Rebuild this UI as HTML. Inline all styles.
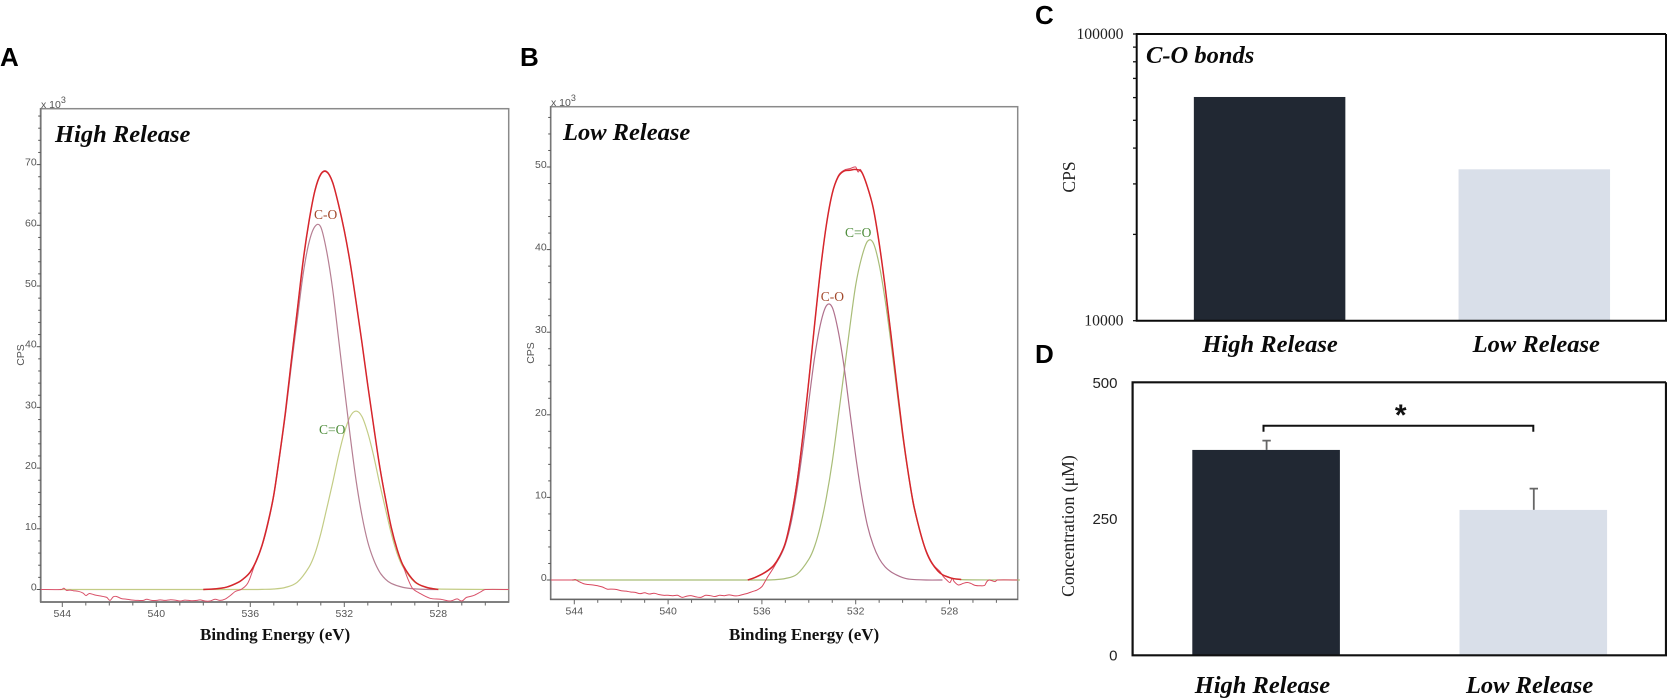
<!DOCTYPE html>
<html lang="en">
<head>
<meta charset="utf-8">
<title>XPS C-O bond spectra and concentration bars</title>
<style>
  html, body { margin: 0; padding: 0; background: #fff; }
  svg { display: block; }
  .serif { font-family: "Liberation Serif", serif; }
  .sans { font-family: "Liberation Sans", sans-serif; }
  .ttl { font-family: "Liberation Serif", serif; font-weight: bold; font-style: italic; font-size: 24.5px; fill: #0a0a0a; }
  .plabel { font-family: "Liberation Sans", sans-serif; font-weight: bold; font-size: 26px; fill: #000; }
  .spec-tick { font-family: "Liberation Sans", sans-serif; font-size: 10.5px; fill: #555; }
  .xe { font-family: "Liberation Serif", serif; font-weight: bold; font-size: 17px; fill: #111; }
</style>
</head>
<body>
<svg id="figure" xmlns="http://www.w3.org/2000/svg" width="1667" height="698" viewBox="0 0 1667 698">
  <rect x="0" y="0" width="1667" height="698" fill="#fff"/>

  <text class="plabel" x="0" y="66">A</text>
  <text class="plabel" x="520" y="66">B</text>
  <text class="plabel" x="1035" y="24">C</text>
  <text class="plabel" x="1035" y="363">D</text>

  <g id="panelA">
    <rect x="40.7" y="108.7" width="468" height="493.3" fill="none" stroke="#8a8a8a" stroke-width="1.5"/>
    <line x1="40.7" y1="108" x2="40.7" y2="602" stroke="#777" stroke-width="1.8"/>
    <line x1="40" y1="602" x2="509" y2="602" stroke="#777" stroke-width="1.8"/>
    <text class="ttl" x="55" y="142">High Release</text>
    <text class="spec-tick" x="41" y="108">x 10<tspan dy="-5" font-size="9">3</tspan></text>
    <text class="spec-tick" transform="translate(24,355) rotate(-90)" text-anchor="middle" font-size="10">CPS</text>
    <text class="xe" x="200" y="640">Binding Energy (eV)</text>
  </g>

  <g id="panelB">
    <rect x="550.7" y="106.7" width="467" height="492.8" fill="none" stroke="#8a8a8a" stroke-width="1.5"/>
    <line x1="550.7" y1="106" x2="550.7" y2="600" stroke="#777" stroke-width="1.6"/>
    <line x1="550" y1="599.3" x2="1018" y2="599.3" stroke="#666" stroke-width="1.4"/>
    <text class="ttl" x="563" y="140">Low Release</text>
    <text class="spec-tick" x="551" y="106">x 10<tspan dy="-5" font-size="9">3</tspan></text>
    <text class="spec-tick" transform="translate(534,353) rotate(-90)" text-anchor="middle" font-size="10">CPS</text>
    <text class="xe" x="729" y="640" font-size="17.5">Binding Energy (eV)</text>
  </g>

  <g id="panelC">
    <text class="serif" transform="translate(1075,177) rotate(-90)" text-anchor="middle" font-size="17.5" fill="#222">CPS</text>
    <text class="ttl" x="1146" y="63">C-O bonds</text>
  </g>

  <g id="panelD">
    <text class="serif" transform="translate(1074,526) rotate(-90)" text-anchor="middle" font-size="17.7" fill="#222">Concentration (μM)</text>
  </g>
</svg>

<script>
// ---------- Panel A: High Release spectrum (binding energy eV / CPS x 10^3) ----------
const aCoEnergy = [538,537.5,537,536.5,536.25,536,535.75,535.5,535.25,535,534.75,534.5,534.25,534,533.75,533.5,533.25,533,532.75,532.5,532.25,532,531.75,531.5,531.25,531,530.75,530.5,530.25,530,529.5,529,528.5,528];
const aCoCps    = [0,0.1,0.4,1.2,1.9,2.9,4.6,7.2,10.8,15.5,22,29,37,44.5,52,57.2,59.8,59.7,55.7,49.6,41.5,33.3,25.3,18,12.2,7.8,4.9,2.9,1.7,1,0.35,0.1,0.02,0];
const aDbEnergy = [544.1,536,535.5,535,534.5,534,533.5,533.25,533,532.75,532.5,532.25,532,531.75,531.5,531.25,531,530.75,530.5,530.25,530,529.75,529.5,529,528.5,528,525];
const aDbCps    = [0,0,0.02,0.08,0.35,1.2,3.7,5.9,9.2,13.3,17.5,22,25.8,28.5,29.4,28.5,25.8,22,17.5,13.3,9.2,5.9,3.7,1.2,0.35,0.08,0];
const aFitEnergy = [538,537.5,537,536.5,536.25,536,535.75,535.5,535.25,535,534.75,534.5,534.25,534,533.75,533.5,533.25,533,532.75,532.5,532.25,532,531.75,531.5,531.25,531,530.75,530.5,530.25,530,529.75,529.5,529,528.5,528];
const aFitCps    = [0,0.1,0.4,1.2,1.9,2.9,4.7,7.3,11,15.6,22.2,29.4,37.8,46,54.2,60.7,65.7,68.4,68.8,67.1,63.5,59.1,53.8,47.4,40.7,33.6,26.9,20.4,15,10.2,6.6,4,1.3,0.35,0];
const aRawEnergy = [544.92,544.03,543.93,543.82,543.67,543.53,543.32,543.11,542.99,542.85,542.61,542.4,542.11,541.97,541.83,541.69,541.48,541.26,540.98,540.77,540.55,540.41,540.2,539.99,539.84,539.63,539.42,539.21,538.99,538.78,538.5,538.28,538.14,537.93,537.72,537.5,537.29,537.08,536.87,536.65,536.51,536.37,536.16,536.04,535.8,535.5,535.25,535,534.75,534.5,534.25,534,533.75,533.5,533.25,533,532.75,532.5,532.25,532,531.75,531.5,531.25,531,530.75,530.5,530.25,530,529.75,529.5,529.3,529.1,528.8,528.35,527.9,527.5,527.2,527,526.8,526.5,526.2,526,525];
const aRawCps    = [0,0,0.2,-0.15,-0.1,-0.2,-0.3,-0.6,-1,-0.65,-0.9,-1.05,-1.3,-1.8,-1.2,-1.15,-1.5,-1.6,-1.75,-1.8,-1.8,-1.6,-1.8,-1.8,-1.7,-1.8,-1.7,-1.75,-1.9,-1.75,-1.85,-1.8,-1.7,-1.9,-1.9,-1.6,-1.8,-1.6,-1.05,-0.35,-0.15,0.05,0.75,1.6,4.2,7.2,10.9,15.7,22.3,29.3,37.9,46.1,54,60.6,65.8,68.5,68.9,67.2,63.4,59.2,53.7,47.5,40.6,33.7,26.8,20.5,15.1,10.1,6.5,3.9,1.8,0.2,-0.6,-1.45,-1.6,-1.9,-1.55,-1.9,-1.3,-1,-0.4,0,0];
const aYTickLabels = [0,10,20,30,40,50,60,70];
const specXTickLabels = [544,540,536,532,528];

// ---------- Panel B: Low Release spectrum ----------
const bCoEnergy = [536.6,536.3,536,535.75,535.5,535.25,535,534.75,534.5,534.25,534,533.75,533.5,533.25,533,532.75,532.5,532.25,532,531.75,531.5,531.25,531,530.75,530.5,530.25,530,529.7,529,528.3];
const bCoCps    = [0,0.3,0.7,1.1,1.7,2.7,4.3,7,11,16,21.6,27,31,33.2,33,30.2,25.9,20.4,15,10.3,6.6,4.2,2.6,1.6,1,0.6,0.3,0.1,0,0];
const bDbEnergy = [544.1,536,535.5,535,534.5,534,533.75,533.5,533.25,533,532.75,532.5,532.25,532,531.75,531.5,531.25,531,530.75,530.5,530.25,530,529.75,529.5,529,528.5,528,527.5,525];
const bDbCps    = [0,0,0.03,0.18,0.7,2.5,4.1,6.6,10,14.3,19.6,25.1,30.6,35.7,39,41,40.8,38.2,34,28.8,23.1,17.5,12.7,8.6,3.5,1.1,0.3,0.05,0];
const bFitEnergy = [536.6,536.3,536,535.75,535.5,535.25,535,534.75,534.5,534.25,534,533.75,533.5,533.25,533,532.75,532.5,532.25,532,531.75,531.5,531.25,531,530.75,530.5,530.25,530,529.75,529.5,529,528.5,528,527.5];
const bFitCps    = [0,0.3,0.7,1.15,1.75,2.85,4.5,7.6,11.8,17.5,24.1,31,37.6,43,46.8,48.8,49.5,49.6,49.7,49.4,47.6,45,40.8,35.6,29.8,23.7,17.8,12.8,8.7,3.5,1.1,0.3,0.05];
const bRawEnergy = [545,544.05,543.95,543.8,543.6,543.4,543.2,543,542.8,542.6,542.4,542.2,542,541.8,541.6,541.4,541.2,541,540.8,540.6,540.4,540.2,540,539.8,539.6,539.4,539.2,539,538.8,538.6,538.4,538.2,538,537.8,537.6,537.4,537.2,537,536.8,536.6,536.4,536.2,536,535.85,535.75,535.5,535.25,535,534.75,534.5,534.25,534,533.75,533.5,533.25,533,532.75,532.5,532.25,532,531.9,531.8,531.6,531.4,531.25,531,530.75,530.5,530.25,530,529.75,529.5,529.25,529,528.7,528.4,528.26,528.12,527.98,527.88,527.8,527.62,527.41,527.24,527.1,526.91,526.7,526.5,526.41,526.3,526.06,525.96,525.1];
const bRawCps    = [0,0,0.05,-0.2,-0.45,-0.55,-0.6,-0.7,-0.85,-1.1,-1.1,-1.15,-1.3,-1.35,-1.45,-1.5,-1.65,-1.55,-1.7,-1.6,-1.75,-1.85,-1.85,-1.9,-1.85,-2.1,-1.95,-1.9,-2.05,-2.1,-1.85,-1.9,-2,-1.85,-1.9,-1.8,-1.9,-1.9,-1.75,-1.6,-1.4,-1.2,-0.8,-0.1,0.4,1.5,2.8,4.5,7.6,12,17.6,24.2,31,37.5,43,46.8,48.9,49.6,49.8,50,49.4,49.7,48.4,46.6,45,40.8,35.6,29.8,23.7,17.8,12.8,8.8,5.8,3.6,1.9,1,0.4,0,-0.3,0.2,-0.2,-0.6,-0.4,-0.3,-0.4,-0.65,-0.7,-0.65,-0.2,0,-0.2,0,0];
const bYTickLabels = [0,10,20,30,40,50];

// ---------- Panel C: C-O bonds (log scale) ----------
const barCategories = ['High Release','Low Release'];
const cBarValues = [60300,33730];
const cTickLabels = [100000,10000];
const cMinorTicks = [90000,80000,70000,60000,50000,40000,30000,20000];

// ---------- Panel D: Concentration ----------
const dBarValues = [376,266];
const dErrorValues = [17,39];
const dTickLabels = [500,250,0];
const dSignificanceLabel = '*';

const barColors = ['#212833','#d9dfe9'];
const NS = 'http://www.w3.org/2000/svg';

// axis functions
function xA(e) { return 62.3 + (544 - e) * 23.5; }
function yA(v) { return 589.5 - v * 6.07; }
function xB(e) { return 574.3 + (544 - e) * 23.45; }
function yB(v) { return 580 - v * 8.26; }
function yC(v) { return 320.7 - (Math.log10(v) - 4) * 286.7; }
function xC(i) { return 1269.6 + i * 264.7; }
function yD(v) { return 655 - v * 0.5454; }
function xD(i) { return 1266.1 + i * 267.2; }

function make(tag, parent, attrs, text) {
  const el = document.createElementNS(NS, tag);
  for (const k in attrs) el.setAttribute(k, attrs[k]);
  if (text !== undefined) el.textContent = text;
  parent.appendChild(el);
  return el;
}

function smoothPath(xs, ys, fx, fy) {
  const p = xs.map(function (x, i) { return [fx(x), fy(ys[i])]; });
  let d = 'M' + p[0][0].toFixed(2) + ' ' + p[0][1].toFixed(2);
  for (let i = 0; i < p.length - 1; i++) {
    const p0 = p[Math.max(i - 1, 0)], p1 = p[i], p2 = p[i + 1], p3 = p[Math.min(i + 2, p.length - 1)];
    const c1x = p1[0] + (p2[0] - p0[0]) / 6 * Math.min(1, (p2[0] - p1[0]) * 2 / (p2[0] - p0[0] || 1));
    const c1y = p1[1] + (p2[1] - p0[1]) / 6 * Math.min(1, (p2[0] - p1[0]) * 2 / (p2[0] - p0[0] || 1));
    const c2x = p2[0] - (p3[0] - p1[0]) / 6 * Math.min(1, (p2[0] - p1[0]) * 2 / (p3[0] - p1[0] || 1));
    const c2y = p2[1] - (p3[1] - p1[1]) / 6 * Math.min(1, (p2[0] - p1[0]) * 2 / (p3[0] - p1[0] || 1));
    d += 'C' + c1x.toFixed(2) + ' ' + c1y.toFixed(2) + ' ' + c2x.toFixed(2) + ' ' + c2y.toFixed(2) + ' ' + p2[0].toFixed(2) + ' ' + p2[1].toFixed(2);
  }
  return d;
}

function drawCurve(parent, name, xs, ys, fx, fy, color, width) {
  const el = make('path', parent, { d: smoothPath(xs, ys, fx, fy), fill: 'none', stroke: color, 'stroke-width': width, 'stroke-linejoin': 'round' });
  
  
}

function drawSpectrumAxes(parent, prefix, fx, fy, xAxisY, leftX, yLabels, topValue, eFrom, eTo) {
  for (let e = eFrom; e >= eTo; e--) {
    const major = specXTickLabels.indexOf(e) >= 0;
    const t = make('line', parent, { x1: fx(e), x2: fx(e), y1: xAxisY, y2: xAxisY + (major ? 5 : 3.5), stroke: '#666', 'stroke-width': 1 });
    
    
  }
  specXTickLabels.forEach(function (e) {
    const l = make('text', parent, { class: 'spec-tick', x: fx(e), y: xAxisY + 15, 'text-anchor': 'middle' }, String(e));
    
    
  });
  for (let v = 0; v <= topValue; v += 2) {
    const major = v % 10 === 0;
    const t = make('line', parent, { x1: leftX - (major ? 4 : 2.5), x2: leftX, y1: fy(v), y2: fy(v), stroke: '#555', 'stroke-width': 1 });
    
    
  }
  yLabels.forEach(function (v) {
    const l = make('text', parent, { class: 'spec-tick', x: leftX - 4, y: fy(v) + 1, 'text-anchor': 'end' }, String(v));
    
    
  });
}

const panelA = document.getElementById('panelA');
const panelB = document.getElementById('panelB');
const panelC = document.getElementById('panelC');
const panelD = document.getElementById('panelD');

// Panel A
drawSpectrumAxes(panelA, 'panel-a', xA, yA, 602, 40.7, aYTickLabels, 78, 544, 526);
drawCurve(panelA, 'panel-a-c-double-o-component', aDbEnergy, aDbCps, xA, yA, '#c3cc85', 1.2);
drawCurve(panelA, 'panel-a-c-o-component', aCoEnergy, aCoCps, xA, yA, '#b67f93', 1.2);
drawCurve(panelA, 'panel-a-measured-trace', aRawEnergy, aRawCps, xA, yA, '#d9526a', 1);
drawCurve(panelA, 'panel-a-fit-envelope', aFitEnergy, aFitCps, xA, yA, '#d6262c', 1.5);
const aCoLabel = make('text', panelA, { class: 'serif', x: 314, y: 219, 'font-size': 13.5, fill: '#a2492c' }, 'C-O');


const aDbLabel = make('text', panelA, { class: 'serif', x: 319, y: 434, 'font-size': 13.5, fill: '#4f8d3c' }, 'C=O');



// Panel B
drawSpectrumAxes(panelB, 'panel-b', xB, yB, 599.3, 550.7, bYTickLabels, 56, 544, 526);
drawCurve(panelB, 'panel-b-c-double-o-component', bDbEnergy, bDbCps, xB, yB, '#a9bd78', 1.2);
drawCurve(panelB, 'panel-b-c-o-component', bCoEnergy, bCoCps, xB, yB, '#b0718d', 1.2);
drawCurve(panelB, 'panel-b-measured-trace', bRawEnergy, bRawCps, xB, yB, '#d9485f', 1);
drawCurve(panelB, 'panel-b-fit-envelope', bFitEnergy, bFitCps, xB, yB, '#d6262c', 1.5);
const bCoLabel = make('text', panelB, { class: 'serif', x: 820.7, y: 301, 'font-size': 13.5, fill: '#a2492c' }, 'C-O');


const bDbLabel = make('text', panelB, { class: 'serif', x: 845, y: 237, 'font-size': 13.5, fill: '#4f8d3c' }, 'C=O');



// Panel C
barCategories.forEach(function (cat, i) {
  const w = 151.5;
  const bar = make('rect', panelC, { x: xC(i) - w / 2, y: yC(cBarValues[i]), width: w, height: yC(10000) - yC(cBarValues[i]), fill: barColors[i] });
  
  
  const lab = make('text', panelC, { class: 'ttl', x: xC(i) + (i === 0 ? 0.5 : 2), y: 352, 'text-anchor': 'middle' }, cat);
  
  
});
const cFrame = make('path', panelC, { d: 'M1666 34H1136.7V320.7H1666V34', fill: 'none', stroke: '#0a0a0a', 'stroke-width': 2 });


cMinorTicks.concat(cTickLabels).forEach(function (v) {
  const t = make('line', panelC, { x1: 1133, x2: 1136.7, y1: yC(v), y2: yC(v), stroke: '#111', 'stroke-width': 1.3 });
  
  
});
cTickLabels.forEach(function (v) {
  const l = make('text', panelC, { class: 'serif', x: 1123.5, y: yC(v) + 5, 'text-anchor': 'end', 'font-size': 15.7, fill: '#222' }, String(v));
  
  
});

// Panel D
barCategories.forEach(function (cat, i) {
  const w = 147.6;
  const cx = xD(i);
  const top = yD(dBarValues[i] + dErrorValues[i]);
  const errX = xD(i) + 0.5;
  const err = make('path', panelD, { d: 'M' + errX + ' ' + yD(dBarValues[i]) + 'V' + top + 'M' + (errX - 4.2) + ' ' + top + 'H' + (errX + 4.2), fill: 'none', stroke: '#666', 'stroke-width': 1.8 });
  
  
  const bar = make('rect', panelD, { x: cx - w / 2, y: yD(dBarValues[i]), width: w, height: yD(0) - yD(dBarValues[i]), fill: barColors[i] });
  
  
  const lab = make('text', panelD, { class: 'ttl', x: xD(i) - 3.7, y: 693, 'text-anchor': 'middle' }, cat);
  
  
});
const dFrame = make('path', panelD, { d: 'M1666 382.3H1132.6V655.3H1666V382.3', fill: 'none', stroke: '#111', 'stroke-width': 2.2 });


dTickLabels.forEach(function (v) {
  const l = make('text', panelD, { class: 'sans', x: 1117.5, y: yD(v) + 5.5, 'text-anchor': 'end', 'font-size': 15, fill: '#222' }, String(v));
  
  
});
const bracket = make('path', panelD, { d: 'M' + (xD(0) - 2.6) + ' 431.7V425.7H' + (xD(1) + 0) + 'V431.7', fill: 'none', stroke: '#111', 'stroke-width': 2 });


const star = make('text', panelD, { class: 'sans', x: (xD(0) + xD(1)) / 2 + 1, y: 425, 'text-anchor': 'middle', 'font-size': 30, 'font-weight': 'bold', fill: '#111' }, dSignificanceLabel);


</script>
</body>
</html>
